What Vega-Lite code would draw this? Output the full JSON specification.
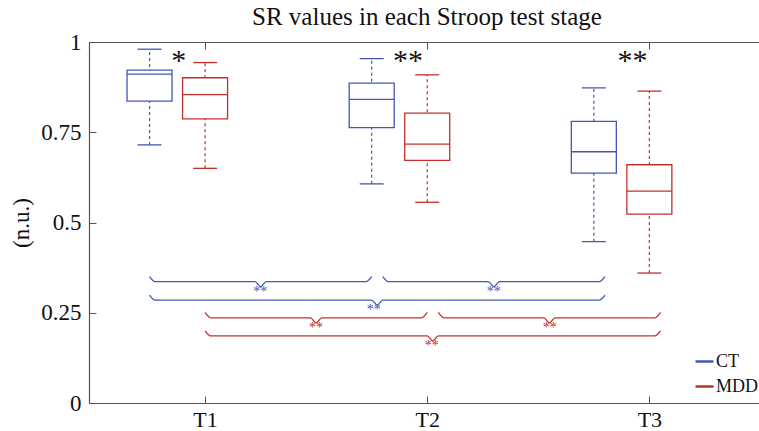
{
  "$schema": "https://vega.github.io/schema/vega-lite/v6.json",
  "width": 670,
  "height": 361,
  "autosize": "none",
  "padding": {"left": 89, "top": 42, "right": 0, "bottom": 28},
  "background": "white",
  "title": {"text": "SR values in each Stroop test stage", "font": "Liberation Serif", "fontSize": 25, "fontWeight": "normal", "color": "#111111", "anchor": "middle", "frame": "group", "baseline": "alphabetic", "offset": -19, "dx": 3},
  "config": {"view": {"stroke": null}, "font": "Liberation Serif"},
  "datasets": {
    "boxes": [
      {"stage": "T1", "group": "CT", "pos": 0.75, "lower": 0.715, "q1": 0.836, "median": 0.911, "q3": 0.922, "upper": 0.980},
      {"stage": "T1", "group": "MDD", "pos": 1.0, "lower": 0.650, "q1": 0.787, "median": 0.854, "q3": 0.901, "upper": 0.943},
      {"stage": "T2", "group": "CT", "pos": 1.75, "lower": 0.607, "q1": 0.763, "median": 0.841, "q3": 0.886, "upper": 0.954},
      {"stage": "T2", "group": "MDD", "pos": 2.0, "lower": 0.556, "q1": 0.672, "median": 0.717, "q3": 0.803, "upper": 0.909},
      {"stage": "T3", "group": "CT", "pos": 2.75, "lower": 0.447, "q1": 0.637, "median": 0.696, "q3": 0.780, "upper": 0.873},
      {"stage": "T3", "group": "MDD", "pos": 3.0, "lower": 0.360, "q1": 0.523, "median": 0.587, "q3": 0.660, "upper": 0.864}
    ],
    "braces": [
      {"brace": "b1", "group": "CT", "x": 0.75, "y": 0.350},
      {"brace": "b1", "group": "CT", "x": 0.775, "y": 0.336},
      {"brace": "b1", "group": "CT", "x": 1.225, "y": 0.336},
      {"brace": "b1", "group": "CT", "x": 1.25, "y": 0.322},
      {"brace": "b1", "group": "CT", "x": 1.275, "y": 0.336},
      {"brace": "b1", "group": "CT", "x": 1.725, "y": 0.336},
      {"brace": "b1", "group": "CT", "x": 1.75, "y": 0.350},
      {"brace": "b2", "group": "CT", "x": 1.80, "y": 0.350},
      {"brace": "b2", "group": "CT", "x": 1.825, "y": 0.336},
      {"brace": "b2", "group": "CT", "x": 2.275, "y": 0.336},
      {"brace": "b2", "group": "CT", "x": 2.30, "y": 0.322},
      {"brace": "b2", "group": "CT", "x": 2.325, "y": 0.336},
      {"brace": "b2", "group": "CT", "x": 2.775, "y": 0.336},
      {"brace": "b2", "group": "CT", "x": 2.80, "y": 0.350},
      {"brace": "b3", "group": "CT", "x": 0.75, "y": 0.299},
      {"brace": "b3", "group": "CT", "x": 0.775, "y": 0.285},
      {"brace": "b3", "group": "CT", "x": 1.75, "y": 0.285},
      {"brace": "b3", "group": "CT", "x": 1.775, "y": 0.271},
      {"brace": "b3", "group": "CT", "x": 1.80, "y": 0.285},
      {"brace": "b3", "group": "CT", "x": 2.775, "y": 0.285},
      {"brace": "b3", "group": "CT", "x": 2.80, "y": 0.299},
      {"brace": "r1", "group": "MDD", "x": 1.0, "y": 0.251},
      {"brace": "r1", "group": "MDD", "x": 1.025, "y": 0.236},
      {"brace": "r1", "group": "MDD", "x": 1.475, "y": 0.236},
      {"brace": "r1", "group": "MDD", "x": 1.5, "y": 0.222},
      {"brace": "r1", "group": "MDD", "x": 1.525, "y": 0.236},
      {"brace": "r1", "group": "MDD", "x": 1.975, "y": 0.236},
      {"brace": "r1", "group": "MDD", "x": 2.0, "y": 0.251},
      {"brace": "r2", "group": "MDD", "x": 2.05, "y": 0.251},
      {"brace": "r2", "group": "MDD", "x": 2.075, "y": 0.236},
      {"brace": "r2", "group": "MDD", "x": 2.525, "y": 0.236},
      {"brace": "r2", "group": "MDD", "x": 2.55, "y": 0.222},
      {"brace": "r2", "group": "MDD", "x": 2.575, "y": 0.236},
      {"brace": "r2", "group": "MDD", "x": 3.025, "y": 0.236},
      {"brace": "r2", "group": "MDD", "x": 3.05, "y": 0.251},
      {"brace": "r3", "group": "MDD", "x": 1.0, "y": 0.200},
      {"brace": "r3", "group": "MDD", "x": 1.025, "y": 0.186},
      {"brace": "r3", "group": "MDD", "x": 2.0, "y": 0.186},
      {"brace": "r3", "group": "MDD", "x": 2.025, "y": 0.172},
      {"brace": "r3", "group": "MDD", "x": 2.05, "y": 0.186},
      {"brace": "r3", "group": "MDD", "x": 3.025, "y": 0.186},
      {"brace": "r3", "group": "MDD", "x": 3.05, "y": 0.200}
    ],
    "smallstars": [
      {"group": "CT", "x": 1.248, "y": 0.296, "t": "**"},
      {"group": "CT", "x": 2.300, "y": 0.296, "t": "**"},
      {"group": "CT", "x": 1.759, "y": 0.246, "t": "**"},
      {"group": "MDD", "x": 1.499, "y": 0.196, "t": "**"},
      {"group": "MDD", "x": 2.552, "y": 0.196, "t": "**"},
      {"group": "MDD", "x": 2.020, "y": 0.1465, "t": "**"}
    ],
    "bigstars": [
      {"x": 0.881, "y": 0.922, "t": "*"},
      {"x": 1.913, "y": 0.922, "t": "**"},
      {"x": 2.924, "y": 0.922, "t": "**"}
    ]
  },
  "layer": [
    {
      "data": {"name": "boxes"},
      "mark": {"type": "rule", "strokeDash": [3, 3], "strokeWidth": 1.2},
      "encoding": {
        "x": {"field": "pos", "type": "quantitative", "scale": {"domain": [0.5, 3.471], "nice": false, "zero": false},
          "axis": {"orient": "bottom", "values": [1, 2, 3], "labelExpr": "'T' + datum.value", "tickSize": -7, "labelPadding": 30, "labelBaseline": "alphabetic", "domainColor": "#555555", "tickColor": "#555555", "domainWidth": 1.2, "tickWidth": 1, "labelFont": "Liberation Serif", "labelFontSize": 22, "labelColor": "#111111", "title": null, "grid": false, "labelFlush": false, "minExtent": 0}},
        "y": {"field": "lower", "type": "quantitative", "scale": {"domain": [0, 1], "nice": false},
          "axis": {"values": [0, 0.25, 0.5, 0.75, 1], "labelExpr": "format(datum.value, '.2~f')", "tickSize": -7, "labelPadding": 15, "domainColor": "#555555", "tickColor": "#555555", "domainWidth": 1.2, "tickWidth": 1, "labelFont": "Liberation Serif", "labelFontSize": 23, "labelColor": "#111111", "grid": false, "labelFlush": false,
            "title": "(n.u.)", "titleFont": "Liberation Serif", "titleFontSize": 23, "titleFontWeight": "normal", "titleColor": "#111111", "titleX": -68, "titleY": 180.5, "titleBaseline": "middle", "titleAlign": "center", "titleAngle": 270}},
        "y2": {"field": "upper"},
        "color": {"field": "group", "type": "nominal", "scale": {"domain": ["CT", "MDD"], "range": ["#4457b5", "#c2302d"]},
          "legend": {"orient": "none", "legendX": 605, "legendY": 309, "title": null, "symbolType": "stroke", "symbolSize": 324, "symbolStrokeWidth": 2.5, "labelFont": "Liberation Serif", "labelFontSize": 18, "labelColor": "#111111", "labelOffset": 1, "rowPadding": 5, "padding": 0}}
      }
    },
    {
      "data": {"name": "boxes"},
      "mark": {"type": "bar", "width": 45, "fill": "white", "strokeWidth": 1.3},
      "encoding": {
        "x": {"field": "pos", "type": "quantitative", "axis": null},
        "y": {"field": "q1", "type": "quantitative"},
        "y2": {"field": "q3"},
        "stroke": {"field": "group", "type": "nominal", "scale": {"domain": ["CT", "MDD"], "range": ["#4457b5", "#c2302d"]}, "legend": null}
      }
    },
    {
      "data": {"name": "boxes"},
      "mark": {"type": "tick", "orient": "horizontal", "size": 45, "thickness": 1.3, "opacity": 1},
      "encoding": {
        "x": {"field": "pos", "type": "quantitative", "axis": null},
        "y": {"field": "median", "type": "quantitative"},
        "fill": {"field": "group", "type": "nominal", "scale": {"domain": ["CT", "MDD"], "range": ["#4457b5", "#c2302d"]}, "legend": null}
      }
    },
    {
      "data": {"name": "boxes"},
      "mark": {"type": "tick", "orient": "horizontal", "size": 24, "thickness": 1.3, "opacity": 1},
      "encoding": {
        "x": {"field": "pos", "type": "quantitative", "axis": null},
        "y": {"field": "lower", "type": "quantitative"},
        "fill": {"field": "group", "type": "nominal", "legend": null}
      }
    },
    {
      "data": {"name": "boxes"},
      "mark": {"type": "tick", "orient": "horizontal", "size": 24, "thickness": 1.3, "opacity": 1},
      "encoding": {
        "x": {"field": "pos", "type": "quantitative", "axis": null},
        "y": {"field": "upper", "type": "quantitative"},
        "fill": {"field": "group", "type": "nominal", "legend": null}
      }
    },
    {
      "data": {"name": "braces"},
      "mark": {"type": "line", "interpolate": "monotone", "strokeWidth": 1.3},
      "encoding": {
        "x": {"field": "x", "type": "quantitative", "axis": null},
        "y": {"field": "y", "type": "quantitative"},
        "color": {"field": "group", "type": "nominal"},
        "detail": {"field": "brace", "type": "nominal"}
      }
    },
    {
      "data": {"name": "smallstars"},
      "mark": {"type": "text", "fontSize": 14, "baseline": "alphabetic", "align": "center", "font": "Liberation Serif"},
      "encoding": {
        "x": {"field": "x", "type": "quantitative", "axis": null},
        "y": {"field": "y", "type": "quantitative"},
        "text": {"field": "t"},
        "fill": {"field": "group", "type": "nominal", "legend": null}
      }
    },
    {
      "data": {"name": "bigstars"},
      "mark": {"type": "text", "fontSize": 30, "baseline": "alphabetic", "align": "center", "font": "Liberation Serif", "color": "#111111"},
      "encoding": {
        "x": {"field": "x", "type": "quantitative",
          "axis": {"orient": "top", "values": [1, 2, 3], "labels": false, "tickSize": -7, "domainColor": "#555555", "tickColor": "#555555", "domainWidth": 1.2, "tickWidth": 1, "title": null, "grid": false, "minExtent": 0, "maxExtent": 0}},
        "y": {"field": "y", "type": "quantitative"},
        "text": {"field": "t"}
      }
    }
  ],
  "resolve": {"axis": {"x": "independent"}}
}
